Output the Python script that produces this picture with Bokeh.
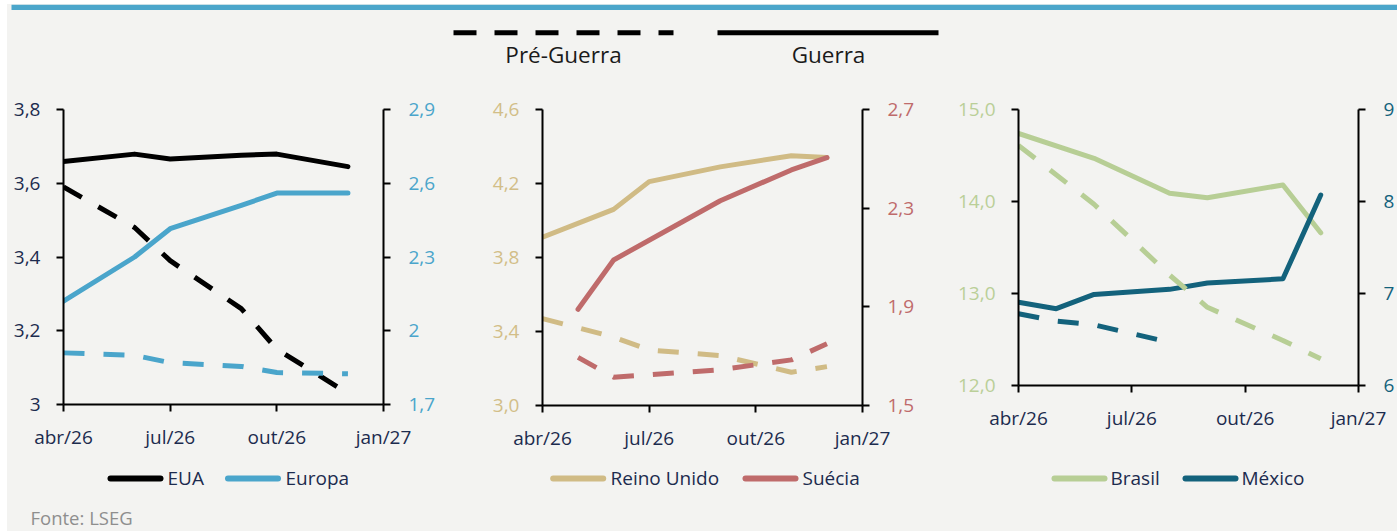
from bokeh.plotting import figure
from bokeh.models import Range1d, LinearAxis, FixedTicker, CustomJSTickFormatter
from bokeh.layouts import column, row
from bokeh.embed import file_html
from bokeh.resources import INLINE
from bokeh.core.properties import value

# ---------------- data ----------------
# x = months counted from abr/26
X_TICKS = [0, 3, 6, 9]
X_LABELS = ["abr/26", "jul/26", "out/26", "jan/27"]

# Panel 1: EUA (left axis) / Europa (right axis)
EUA_X = [0, 2, 3, 5, 6, 8]
EUA_GUERRA = [3.659, 3.679, 3.666, 3.676, 3.679, 3.645]
EUA_PRE = [3.59, 3.48, 3.39, 3.26, 3.15, 3.03]
EUROPA_X = [0, 2, 3, 5, 6, 8]
EUROPA_GUERRA = [2.12, 2.30, 2.415, 2.51, 2.56, 2.56]
EUROPA_PRE = [1.91, 1.90, 1.87, 1.855, 1.83, 1.825]

# Panel 2: Reino Unido (left) / Suécia (right)
RU_X = [0, 2, 3, 5, 7, 8]
RU_GUERRA = [3.91, 4.06, 4.21, 4.29, 4.35, 4.34]
RU_PRE = [3.47, 3.37, 3.30, 3.27, 3.18, 3.21]
SE_X = [1, 2, 4, 5, 7, 8]
SE_GUERRA = [1.89, 2.09, 2.25, 2.33, 2.455, 2.505]
SE_PRE = [1.695, 1.615, 1.635, 1.645, 1.685, 1.75]

# Panel 3: Brasil (left) / México (right)
BR_X = [0, 2, 4, 5, 7, 8]
BR_GUERRA = [14.74, 14.47, 14.09, 14.04, 14.18, 13.66]
BR_PRE = [14.61, 13.97, 13.20, 12.85, 12.49, 12.29]
MX_X = [0, 1, 2, 4, 5, 7, 8]
MX_GUERRA = [6.905, 6.835, 6.99, 7.045, 7.115, 7.16, 8.07]
MX_PRE_X = [0, 1, 2, 4]
MX_PRE = [6.78, 6.70, 6.66, 6.47]

P1_LEFT_TICKS = [3.0, 3.2, 3.4, 3.6, 3.8]
P1_RIGHT_TICKS = [1.7, 2.0, 2.3, 2.6, 2.9]
P2_LEFT_TICKS = [3.0, 3.4, 3.8, 4.2, 4.6]
P2_RIGHT_TICKS = [1.5, 1.9, 2.3, 2.7]
P3_LEFT_TICKS = [12, 13, 14, 15]
P3_RIGHT_TICKS = [6, 7, 8, 9]

LEGEND_NAMES = ["EUA", "Europa", "Reino Unido", "Suécia", "Brasil", "México"]
HEADER_LABELS = ["Pré-Guerra", "Guerra"]
SOURCE = "Fonte: LSEG"

# ---------------- style ----------------
BG = "#F3F3F1"
NAVY = "#1C2B4E"
FONT = "Open Sans"
C_EUA = "#000000"
C_EUR = "#4AA5CB"
C_RU = "#D0BB85"
C_SE = "#BF6B6B"
C_BR = "#B7CE95"
C_MX = "#13627C"
DASH = "21 19"
LW = 5

fmt_trim = CustomJSTickFormatter(code="var s=(Math.round(tick*10)/10).toString(); return s.replace('.', ',');")
fmt_one = CustomJSTickFormatter(code="return tick.toFixed(1).replace('.', ',');")
fmt_int = CustomJSTickFormatter(code="return tick.toFixed(0);")


def style_axis(ax, color, standoff):
    ax.axis_line_color = "black"
    ax.axis_line_width = 2
    ax.major_tick_line_color = "black"
    ax.major_tick_line_width = 2
    ax.major_tick_out = 7
    ax.major_tick_in = 0
    ax.minor_tick_line_color = None
    ax.major_label_text_font = FONT
    ax.major_label_text_font_size = "19px"
    ax.major_label_text_color = color
    ax.major_label_standoff = standoff


def panel(lr, rr, lt, rt, lfmt, rfmt, lcol, rcol, mbl, fw, mbr, mbt, fh, mbb):
    p = figure(frame_width=fw, frame_height=fh, min_border_left=mbl, min_border_right=mbr,
               min_border_top=mbt, min_border_bottom=mbb,
               x_range=Range1d(0, 9), y_range=Range1d(*lr),
               output_backend="svg", toolbar_location=None,
               background_fill_color=BG, border_fill_color=BG, outline_line_color=None)
    p.extra_y_ranges = {"r": Range1d(*rr)}
    rax = LinearAxis(y_range_name="r")
    p.add_layout(rax, "right")
    p.grid.visible = False
    xax = p.xaxis[0]
    lax = p.left[0]
    style_axis(xax, NAVY, 12)
    xax.ticker = FixedTicker(ticks=X_TICKS)
    xax.formatter = CustomJSTickFormatter(args=dict(xt=X_TICKS, xl=X_LABELS),
                                          code="var i=xt.indexOf(Math.round(tick)); return i>=0 ? xl[i] : '';")
    style_axis(lax, lcol, 16)
    lax.ticker = FixedTicker(ticks=lt)
    lax.formatter = lfmt
    style_axis(rax, rcol, 18)
    rax.ticker = FixedTicker(ticks=rt)
    rax.formatter = rfmt
    return p


def add_line(p, x, y, color, dashed, right=False):
    kw = dict(line_color=color, line_width=LW, line_join="round")
    if dashed:
        kw["line_dash"] = DASH
        kw["line_cap"] = "butt"
    else:
        kw["line_cap"] = "round"
    if right:
        kw["y_range_name"] = "r"
    p.line(x, y, **kw)


# Panel 1
f1 = panel((3.0, 3.8), (1.7, 2.9), P1_LEFT_TICKS, P1_RIGHT_TICKS, fmt_trim, fmt_trim,
           NAVY, C_EUR, 56, 320, 87, 28, 295, 57)
add_line(f1, EUA_X, EUA_GUERRA, C_EUA, False)
add_line(f1, EUROPA_X, EUROPA_GUERRA, C_EUR, False, True)
add_line(f1, EUA_X, EUA_PRE, C_EUA, True)
add_line(f1, EUROPA_X, EUROPA_PRE, C_EUR, True, True)

# Panel 2
f2 = panel((3.0, 4.6), (1.5, 2.7), P2_LEFT_TICKS, P2_RIGHT_TICKS, fmt_one, fmt_one,
           "#D2BE88", C_SE, 72, 320, 83, 28, 296, 56)
add_line(f2, RU_X, RU_GUERRA, C_RU, False)
add_line(f2, SE_X, SE_GUERRA, C_SE, False, True)
add_line(f2, RU_X, RU_PRE, C_RU, True)
add_line(f2, SE_X, SE_PRE, C_SE, True, True)

# Panel 3
f3 = panel((12.0, 15.0), (6.0, 9.0), P3_LEFT_TICKS, P3_RIGHT_TICKS, fmt_one, fmt_int,
           "#BACF98", C_MX, 73, 340, 39, 29, 276, 75)
add_line(f3, BR_X, BR_GUERRA, C_BR, False)
add_line(f3, MX_X, MX_GUERRA, C_MX, False, True)
add_line(f3, BR_X, BR_PRE, C_BR, True)
add_line(f3, MX_PRE_X, MX_PRE, C_MX, True, True)


# ---------------- decoration strips (header / footer) ----------------
def deco(w, h):
    p = figure(width=w, height=h, x_range=Range1d(0, w), y_range=Range1d(h, 0),
               output_backend="svg", toolbar_location=None, min_border=0,
               x_axis_type=None, y_axis_type=None,
               background_fill_color=BG, border_fill_color=BG, outline_line_color=None)
    p.grid.visible = False
    return p


W = 1390
header = deco(W, 76)
header.quad(left=[4], right=[W], top=[0], bottom=[5.5], fill_color="#4BA6CB", line_color=None)
header.segment(x0=[446], y0=[28.3], x1=[666], y1=[28.3], line_color="black", line_width=5,
               line_dash="23 18", line_cap="butt")
header.segment(x0=[710], y0=[28.3], x1=[931], y1=[28.3], line_color="black", line_width=5, line_cap="butt")
header.text(x=[556, 821], y=[49.5, 49.5], text=HEADER_LABELS, text_font=value(FONT),
            text_font_size="22.5px", text_color="#1a1a1a", text_align="center", text_baseline="middle")

footer = deco(W, 71)
leg_colors = [C_EUA, C_EUR, C_RU, C_SE, C_BR, C_MX]
leg_x0 = [103, 220.5, 545.7, 738, 1047, 1178]
leg_tx = [160, 278, 603, 795, 1103, 1234]
leg_len = 50
footer.segment(x0=leg_x0, y0=[18] * 6, x1=[x + leg_len for x in leg_x0], y1=[18] * 6,
               line_color=leg_colors, line_width=6, line_cap="round")
footer.text(x=leg_tx, y=[17] * 6, text=LEGEND_NAMES,
            text_font=value(FONT), text_font_size="19px", text_color=NAVY,
            text_align="left", text_baseline="middle")
footer.text(x=[23], y=[57], text=[SOURCE], text_font=value(FONT), text_font_size="18.5px",
            text_color="#8E8E8E", text_align="left", text_baseline="middle")

bgstyle = {"background-color": BG}
layout = column(header, row(f1, f2, f3, styles=bgstyle), footer,
                styles=bgstyle, margin=(4, 0, 0, 7))
open("out.html", "w").write(file_html(layout, INLINE))
